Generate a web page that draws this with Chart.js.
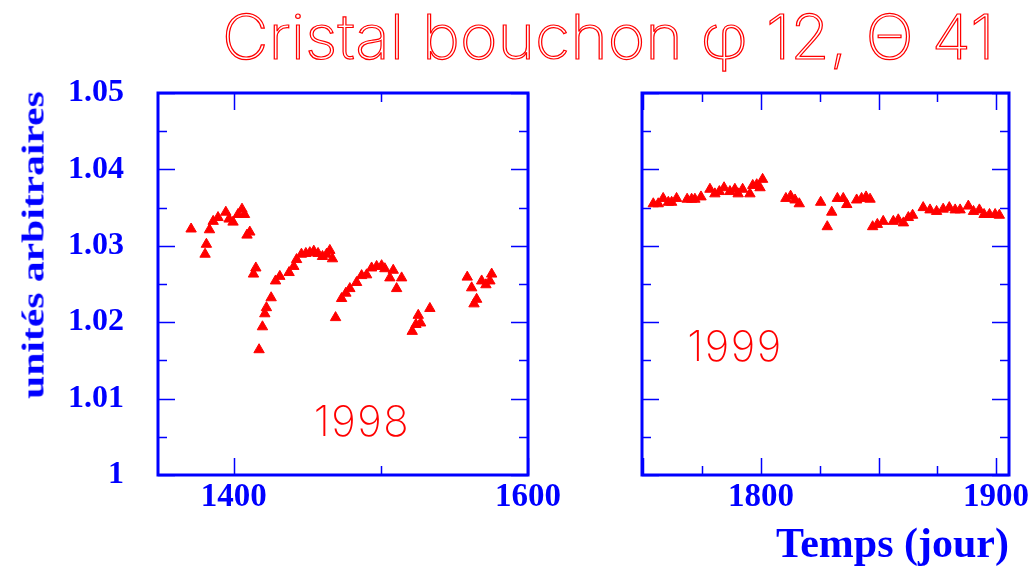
<!DOCTYPE html>
<html>
<head>
<meta charset="utf-8">
<script src="https://cdn.jsdelivr.net/npm/chart.js@4.4.1/dist/chart.umd.min.js"></script>
<style>
  html, body { margin: 0; padding: 0; background: #fff; overflow: hidden; }
  body { width: 1032px; height: 571px; position: relative; }
  canvas { position: absolute; top: 0; }
  #cLeft { left: 0; }
  #cRight { left: 560px; }
  .txt { position: absolute; white-space: nowrap; }
  #title {
    left: 222px; top: -1px; font: 200 62px Inter, "DejaVu Sans", sans-serif;
    color: transparent; -webkit-text-stroke: 1.2px #ff0000; transform-origin: 0 0;
  }
  #ytitle {
    left: 33px; top: 245px; font: bold 32px "Liberation Serif", serif; color: #0000ff;
    transform: translate(-50%, -50%) rotate(-90deg) scaleX(1.3);
  }
  .year {
    font: 200 42px Inter, "DejaVu Sans", sans-serif; color: #ff0000; line-height: 1;
    letter-spacing: 1.5px; transform: translate(-50%, -50%);
  }
</style>
</head>
<body>
<canvas id="cLeft" width="600" height="571"></canvas>
<canvas id="cRight" width="500" height="571"></canvas>
<div class="txt" id="title">Cristal bouchon φ 12, Θ 41</div>
<div class="txt" id="ytitle">unités arbitraires</div>
<div class="txt year" style="left:362px; top:421px">1998</div>
<div class="txt year" style="left:735px; top:346px">1999</div>
<script>
// donnees (jour, valeur relative)
const days1998 = [1371, 1380.5, 1381.4, 1383.5, 1386, 1389.3, 1394.6, 1396.8, 1399.5, 1402.9, 1405.6, 1407.3,
  1409, 1410.9, 1413.4, 1415, 1417.2, 1419.5, 1421.1, 1422.2, 1425.4, 1428.4, 1431.3, 1437.6, 1440.8, 1442.7,
  1446, 1449, 1451.7, 1454.4, 1457.3, 1460.3, 1463.1, 1465.3, 1467.1, 1469.2, 1473.3, 1476.2, 1478.9, 1483.5,
  1486.9, 1490.3, 1493.7, 1497.1, 1500.5, 1502.7, 1506.1, 1508.4, 1510.7, 1514.1, 1521.3, 1523.8, 1525.4, 1527,
  1533.3, 1558.7, 1561.7, 1563.3, 1565.1, 1568.5, 1571.4, 1574.1, 1575.3];
const values1998 = [1.0322, 1.0289, 1.0302, 1.0321, 1.0332, 1.0337, 1.0344, 1.0335, 1.0331, 1.0341, 1.0348, 1.0341,
  1.0314, 1.0318, 1.0263, 1.0271, 1.0164, 1.0194, 1.0211, 1.0219, 1.0232, 1.0254, 1.0260, 1.0265, 1.0273, 1.0282,
  1.0289, 1.0290, 1.0291, 1.0293, 1.0290, 1.0286, 1.0289, 1.0294, 1.0283, 1.0206, 1.0231, 1.0238, 1.0244, 1.0252,
  1.0261, 1.0262, 1.0271, 1.0273, 1.0274, 1.0270, 1.0258, 1.0268, 1.0244, 1.0258, 1.0188, 1.0197, 1.0209, 1.0199,
  1.0218, 1.0259, 1.0245, 1.0224, 1.0230, 1.0254, 1.0249, 1.0254, 1.0263];

const days1999 = [1754.2, 1756.3, 1758.4, 1760.6, 1762, 1764.1, 1768.6, 1770.5, 1771.9, 1774.5, 1778.3, 1780.4,
  1782.3, 1784.3, 1786.8, 1788.9, 1790.3, 1792.2, 1795.3, 1796.5, 1798.2, 1799.6, 1800.7, 1810.6, 1812.6, 1814.5,
  1816.3, 1825.4, 1828.2, 1830.1, 1832.5, 1835, 1836.5, 1840.7, 1842.8, 1844.7, 1846.4, 1847.5, 1849.5, 1852,
  1856.3, 1858.4, 1860.6, 1862.7, 1864.5, 1869, 1871.9, 1874.7, 1877.5, 1880.1, 1882.6, 1884.7, 1888.2, 1890.4,
  1892.9, 1894.9, 1897.2, 1899.6, 1901.4];
const values1999 = [1.0355, 1.0355, 1.0362, 1.0357, 1.0357, 1.0362, 1.0361, 1.0361, 1.0361, 1.0364, 1.0374, 1.0368,
  1.0371, 1.0376, 1.0371, 1.0374, 1.0368, 1.0374, 1.0368, 1.0379, 1.0380, 1.0376, 1.0387, 1.0362, 1.0365, 1.0360,
  1.0355, 1.0357, 1.0325, 1.0344, 1.0362, 1.0362, 1.0354, 1.0360, 1.0362, 1.0364, 1.0361, 1.0325, 1.0328, 1.0332,
  1.0332, 1.0334, 1.0330, 1.0337, 1.0340, 1.0350, 1.0347, 1.0345, 1.0348, 1.0350, 1.0347, 1.0347, 1.0352, 1.0345,
  1.0347, 1.0341, 1.0341, 1.0341, 1.0340];

// graduations
const yMajor = [1, 1.01, 1.02, 1.03, 1.04, 1.05];
const yMinor = [1.005, 1.015, 1.025, 1.035, 1.045];
const xMajor1998 = [1400, 1600];
const xMinor1998 = [1500];
const xMajor1999 = [1750, 1800, 1850, 1900];
const xMinor1999 = [1775, 1825, 1875];
const xLabels1998 = [1400, 1600];
const xLabels1999 = [1800, 1900];

const BLUE = '#0000ff';
const RED = '#ff0000';
const serifBold = (size) => ({ family: '"Liberation Serif", "Times New Roman", serif', size, weight: 'bold' });

// cadre + graduations interieures facon PAW
const framePlugin = {
  id: 'frame',
  afterDraw(chart, args, opts) {
    const { ctx, chartArea: a, scales } = chart;
    const xs = scales.x, ys = scales.y;
    ctx.save();
    ctx.strokeStyle = BLUE;
    ctx.lineWidth = 1.5;
    const tick = (vals, len, horiz) => {
      vals.forEach(v => {
        ctx.beginPath();
        if (horiz) {
          const px = Math.round(xs.getPixelForValue(v)) + 0.5;
          ctx.moveTo(px, a.bottom); ctx.lineTo(px, a.bottom - len);
          ctx.moveTo(px, a.top); ctx.lineTo(px, a.top + len);
        } else {
          const py = Math.round(ys.getPixelForValue(v)) + 0.5;
          ctx.moveTo(a.left, py); ctx.lineTo(a.left + len, py);
          ctx.moveTo(a.right, py); ctx.lineTo(a.right - len, py);
        }
        ctx.stroke();
      });
    };
    tick(opts.xMajor, 17, true);
    tick(opts.xMinor, 9, true);
    tick(yMajor, 17, false);
    tick(yMinor, 9, false);
    ctx.lineWidth = 3;
    ctx.strokeRect(a.left, a.top, a.right - a.left, a.bottom - a.top);
    ctx.restore();
  }
};

function makePanel(id, days, values, xmin, xmax, xLabels, xMajor, xMinor, isLeft) {
  return new Chart(document.getElementById(id), {
    type: 'scatter',
    data: {
      datasets: [{
        data: days.map((d, i) => ({ x: d, y: values[i] })),
        pointStyle: 'triangle',
        pointRadius: 6,
        borderWidth: 1,
        backgroundColor: RED,
        borderColor: RED
      }]
    },
    plugins: [framePlugin],
    options: {
      responsive: false,
      animation: false,
      devicePixelRatio: 1,
      layout: { padding: isLeft ? { left: 0, top: 93, right: 72, bottom: 0 } : { left: 82, top: 93, right: 51, bottom: 0 } },
      plugins: {
        legend: { display: false },
        tooltip: { enabled: false },
        frame: { xMajor, xMinor }
      },
      scales: {
        x: {
          type: 'linear',
          min: xmin, max: xmax,
          afterBuildTicks: (s) => { s.ticks = xLabels.map(v => ({ value: v })); },
          afterFit: (s) => { s.height = 96; },
          grid: { display: false, drawTicks: false },
          border: { display: false },
          ticks: { color: BLUE, font: serifBold(33), padding: 3, maxRotation: 0, autoSkip: false,
                   callback: (v) => String(v) },
          title: isLeft ? { display: false } : {
            display: true, text: 'Temps (jour)', align: 'end', color: BLUE,
            font: serifBold(42), padding: { top: 0, bottom: 0 }
          }
        },
        y: {
          type: 'linear',
          display: isLeft,
          min: 1, max: 1.05,
          afterBuildTicks: (s) => { s.ticks = yMajor.map(v => ({ value: v })); },
          afterFit: (s) => { s.width = isLeft ? 158 : 0; },
          grid: { display: false, drawTicks: false },
          border: { display: false },
          ticks: { color: BLUE, font: serifBold(32), padding: 34, autoSkip: false,
                   callback: (v) => String(v) }
        }
      }
    }
  });
}

makePanel('cLeft', days1998, values1998, 1348.5, 1600, xLabels1998, xMajor1998, xMinor1998, true);
makePanel('cRight', days1999, values1999, 1749.4, 1905.5, xLabels1999, xMajor1999, xMinor1999, false);

// ajuste la largeur du titre (222 -> 995 px)
const t = document.getElementById('title');
t.style.transform = `scaleX(${773 / t.offsetWidth})`;
</script>
</body>
</html>
